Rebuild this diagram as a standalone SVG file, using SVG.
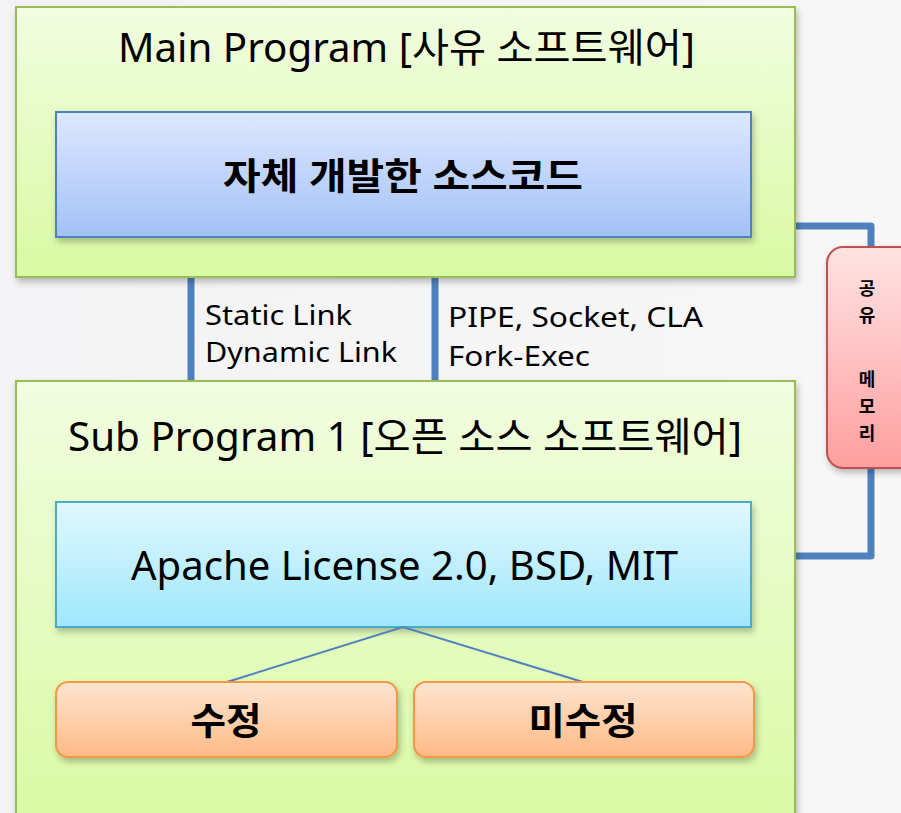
<svg xmlns="http://www.w3.org/2000/svg" width="901" height="813" viewBox="0 0 901 813">
<defs>
<linearGradient id="bg" x1="0" y1="0" x2="1" y2="0"><stop offset="0" stop-color="#f3f3f5"/><stop offset="1" stop-color="#f7f7f8"/></linearGradient>
<linearGradient id="gGreen" x1="0" y1="0" x2="0" y2="1"><stop offset="0" stop-color="#f1fde0"/><stop offset="1" stop-color="#d9faa3"/></linearGradient>
<linearGradient id="gBlue" x1="0" y1="0" x2="0" y2="1"><stop offset="0" stop-color="#dde8fe"/><stop offset="1" stop-color="#a3c1f7"/></linearGradient>
<linearGradient id="gCyan" x1="0" y1="0" x2="0" y2="1"><stop offset="0" stop-color="#e0f8fe"/><stop offset="1" stop-color="#9fe7fc"/></linearGradient>
<linearGradient id="gOrange" x1="0" y1="0" x2="0" y2="1"><stop offset="0" stop-color="#fee5d0"/><stop offset="1" stop-color="#fdba86"/></linearGradient>
<linearGradient id="gRed" x1="0" y1="0" x2="0" y2="1"><stop offset="0" stop-color="#ffe3e3"/><stop offset="1" stop-color="#ff9e9e"/></linearGradient>
<filter id="sh" x="-10%" y="-10%" width="120%" height="130%"><feDropShadow dx="2" dy="4" stdDeviation="3" flood-color="#000" flood-opacity="0.25"/></filter>
</defs>
<style>
text{font-family:"Noto Sans","Noto Sans CJK KR",sans-serif;fill:#000}
.title{font-size:40px}
.bold{font-weight:bold}
.lbl{font-size:28px}
.mem{font-family:"Noto Sans CJK KR",sans-serif;font-size:18px;font-weight:bold;text-anchor:middle}
.conn{fill:none;stroke:#4f81bd;stroke-width:7;stroke-linejoin:round}
</style>
<rect width="901" height="813" fill="url(#bg)"/>
<g id="connectors">
<line x1="191" y1="277" x2="191" y2="381" class="conn" stroke-linecap="butt"/>
<line x1="435" y1="277" x2="435" y2="381" class="conn" stroke-linecap="butt"/>
<polyline points="795,226 871,226 871,250" class="conn"/>
<polyline points="871,466 871,556 795,556" class="conn"/>
</g>
<g id="main-program">
<rect x="16" y="7" width="779" height="270" fill="url(#gGreen)" stroke="#9bbb59" stroke-width="2" filter="url(#sh)"/>
<text class="title" x="118" y="62" textLength="577" lengthAdjust="spacingAndGlyphs">Main Program [사유 소프트웨어]</text>
</g>
<g id="own-source">
<rect x="56" y="112" width="695" height="125" fill="url(#gBlue)" stroke="#4f81bd" stroke-width="2" filter="url(#sh)"/>
<text class="bold" font-size="37" x="223" y="190" textLength="360" lengthAdjust="spacingAndGlyphs">자체 개발한 소스코드</text>
</g>
<g id="link-labels">
<text class="lbl" x="205" y="325" textLength="147" lengthAdjust="spacingAndGlyphs">Static Link</text>
<text class="lbl" x="205" y="362" textLength="192" lengthAdjust="spacingAndGlyphs">Dynamic Link</text>
<text class="lbl" x="448" y="327" textLength="255" lengthAdjust="spacingAndGlyphs">PIPE, Socket, CLA</text>
<text class="lbl" x="448" y="366" textLength="142" lengthAdjust="spacingAndGlyphs">Fork-Exec</text>
</g>
<g id="sub-program">
<rect x="16" y="381" width="779" height="450" fill="url(#gGreen)" stroke="#9bbb59" stroke-width="2" filter="url(#sh)"/>
<text class="title" x="68" y="451" textLength="674" lengthAdjust="spacingAndGlyphs">Sub Program 1 [오픈 소스 소프트웨어]</text>
</g>
<g id="license">
<rect x="56" y="502" width="695" height="125" fill="url(#gCyan)" stroke="#4bacc6" stroke-width="2" filter="url(#sh)"/>
<text class="title" x="131" y="580" textLength="547" lengthAdjust="spacingAndGlyphs">Apache License 2.0, BSD, MIT</text>
</g>
<g id="tree-lines">
<polyline points="227,682 403,627 583,682" fill="none" stroke="#4f81bd" stroke-width="2"/>
</g>
<g id="modified">
<rect x="56" y="682" width="341" height="75" rx="12" fill="url(#gOrange)" stroke="#f79646" stroke-width="2" filter="url(#sh)"/>
<text class="bold" font-size="37" x="226" y="735" text-anchor="middle" textLength="71" lengthAdjust="spacingAndGlyphs">수정</text>
</g>
<g id="unmodified">
<rect x="414" y="682" width="340" height="75" rx="12" fill="url(#gOrange)" stroke="#f79646" stroke-width="2" filter="url(#sh)"/>
<text class="bold" font-size="37" x="583" y="735" text-anchor="middle" textLength="109" lengthAdjust="spacingAndGlyphs">미수정</text>
</g>
<g id="shared-memory">
<rect x="827" y="247" width="90" height="221" rx="16" fill="url(#gRed)" stroke="#c0504d" stroke-width="2" filter="url(#sh)"/>
<text class="mem" x="867" y="295">공</text>
<text class="mem" x="867" y="322">유</text>
<text class="mem" x="867" y="386">메</text>
<text class="mem" x="867" y="413">모</text>
<text class="mem" x="867" y="440">리</text>
</g>
</svg>
